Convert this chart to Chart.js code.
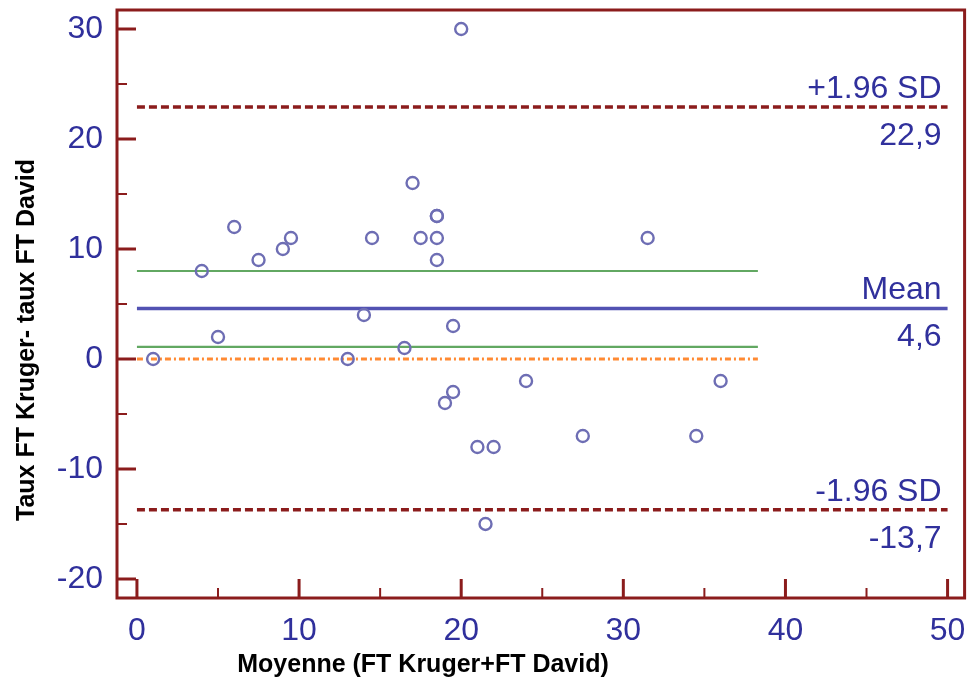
<!DOCTYPE html>
<html>
<head>
<meta charset="utf-8">
<script src="https://cdn.jsdelivr.net/npm/chart.js@4"></script>
<style>
  html, body { margin: 0; padding: 0; background: #fff; }
  canvas { display: block; }
</style>
</head>
<body>
<canvas id="grafico" width="973" height="680"></canvas>
<script>
// Bland-Altman : moyenne des deux mesures (x) et différence (y)
var moyennes = [1, 4, 5, 6, 7.5, 9, 9.5, 13, 14, 14.5, 16.5, 17, 17.5, 18.5, 18.5, 18.5, 18.5, 19, 19.5, 19.5, 20, 21, 21.5, 22, 24, 27.5, 31.5, 34.5, 36]
var differences = [0, 8, 2, 12, 9, 10, 11, 0, 4, 11, 1, 16, 11, 13, 13, 11, 9, -4, 3, -3, 30, -8, -15, -8, -2, -7, 11, -7, -2]

// Lignes de référence
var moyenneDiff = 4.6
var limiteSup = 22.9
var limiteInf = -13.7
var icBas = 1.1
var icHaut = 8.0
var debutLignes = 0
var finLignes = 50
var finLignesCourtes = 38.3

// Graduations
var xTicks = [0, 10, 20, 30, 40, 50]
var xMinorTicks = [5, 15, 25, 35, 45]
var yTicks = [-20, -10, 0, 10, 20, 30]
var yMinorTicks = [-15, -5, 5, 15, 25]

var rouge = '#8b1c1c'
var bleuTexte = '#30309c'
var police = "'Liberation Sans', Arial, sans-serif"

function ligne(valeur, fin, couleur, largeur, tirets) {
  return {
    type: 'line',
    data: [{x: debutLignes, y: valeur}, {x: fin, y: valeur}],
    borderColor: couleur,
    borderWidth: largeur,
    borderDash: tirets,
    pointRadius: 0,
    showLine: true,
    fill: false,
    order: 1
  }
}

function virgule(v) {
  return v.toFixed(1).replace('.', ',')
}

// Cadre, graduations internes et étiquettes des lignes
const decor = {
  id: 'decor',
  afterDraw(chart) {
    const ctx = chart.ctx
    const a = chart.chartArea
    const sx = chart.scales.x
    const sy = chart.scales.y
    ctx.save()
    ctx.strokeStyle = rouge
    ctx.lineWidth = 3
    ctx.strokeRect(a.left, a.top, a.right - a.left, a.bottom - a.top)

    ctx.lineWidth = 3
    ctx.beginPath()
    yTicks.forEach(v => { const p = sy.getPixelForValue(v); ctx.moveTo(a.left, p); ctx.lineTo(a.left + 19, p) })
    xTicks.forEach(v => { const p = sx.getPixelForValue(v); ctx.moveTo(p, a.bottom); ctx.lineTo(p, a.bottom - 19) })
    ctx.stroke()
    ctx.lineWidth = 2
    ctx.beginPath()
    yMinorTicks.forEach(v => { const p = sy.getPixelForValue(v); ctx.moveTo(a.left, p); ctx.lineTo(a.left + 10, p) })
    xMinorTicks.forEach(v => { const p = sx.getPixelForValue(v); ctx.moveTo(p, a.bottom); ctx.lineTo(p, a.bottom - 10) })
    ctx.stroke()

    // étiquettes à droite
    ctx.fillStyle = bleuTexte
    ctx.font = '32px ' + police
    ctx.textAlign = 'right'
    ctx.textBaseline = 'alphabetic'
    const xd = sx.getPixelForValue(finLignes) - 6
    const etiquettes = [['+1.96 SD', limiteSup], ['Mean', moyenneDiff], ['-1.96 SD', limiteInf]]
    etiquettes.forEach(e => {
      const p = sy.getPixelForValue(e[1])
      ctx.fillText(e[0], xd, p - 9)
      ctx.fillText(virgule(e[1]), xd, p + 38)
    })

    // titres des axes
    ctx.fillStyle = '#000'
    ctx.font = 'bold 25px ' + police
    ctx.textAlign = 'center'
    ctx.fillText('Moyenne (FT Kruger+FT David)', 423, 672)
    ctx.translate(34, 340)
    ctx.rotate(-Math.PI / 2)
    ctx.fillText('Taux FT Kruger- taux FT David', 0, 0)
    ctx.restore()
  }
}

const ctx = document.getElementById('grafico')

let grafico = new Chart(ctx, {
  type: 'scatter',
  data: {
    datasets: [
      {
        data: moyennes.map((m, i) => ({x: m, y: differences[i]})),
        pointStyle: 'circle',
        pointRadius: 6,
        pointBorderWidth: 2.4,
        borderColor: '#6e6eb4',
        backgroundColor: 'rgba(0,0,0,0)',
        order: 0
      },
      ligne(limiteSup, finLignes, rouge, 3.5, [8, 4]),
      ligne(limiteInf, finLignes, rouge, 3.5, [8, 4]),
      ligne(moyenneDiff, finLignes, '#5252b2', 3.5, []),
      ligne(icHaut, finLignesCourtes, '#62a862', 2.2, []),
      ligne(icBas, finLignesCourtes, '#62a862', 2.2, []),
      ligne(0, finLignesCourtes, '#ff8a33', 3, [6, 3, 2, 3])
    ]
  },
  options: {
    responsive: false,
    animation: false,
    devicePixelRatio: 1,
    layout: { padding: { left: 0, top: 10, right: 6, bottom: 0 } },
    plugins: { legend: { display: false }, tooltip: { enabled: false } },
    scales: {
      x: {
        min: -1.23,
        max: 51.05,
        afterBuildTicks: s => { s.ticks = xTicks.map(v => ({value: v})) },
        afterFit: s => { s.height = 82; s.paddingLeft = 0; s.paddingRight = 0 },
        grid: { display: false, drawTicks: false },
        border: { display: false },
        ticks: { padding: 14, color: bleuTexte, font: { size: 32, family: police } }
      },
      y: {
        min: -21.73,
        max: 31.73,
        afterBuildTicks: s => { s.ticks = yTicks.map(v => ({value: v})) },
        afterFit: s => { s.width = 117; s.paddingTop = 0; s.paddingBottom = 0 },
        grid: { display: false, drawTicks: false },
        border: { display: false },
        ticks: { padding: 14, color: bleuTexte, font: { size: 32, family: police } }
      }
    }
  },
  plugins: [decor]
});
</script>
</body>
</html>
